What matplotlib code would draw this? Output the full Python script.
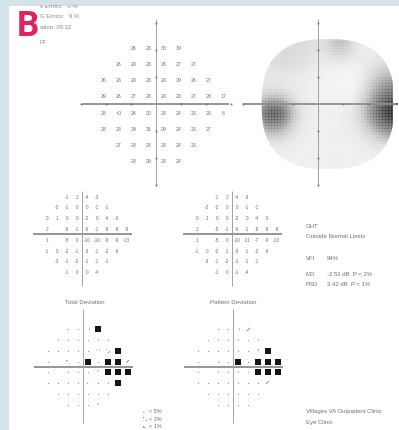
import numpy as np
import matplotlib.pyplot as plt
from matplotlib.patches import Rectangle, PathPatch
from matplotlib.path import Path

plt.rcParams['font.family'] = ['Liberation Sans', 'DejaVu Sans']
plt.rcParams['hatch.linewidth'] = 0.5

W, H = 399, 431
BG = '#d4e2e9'
INK = '#707070'
AXIS = '#8e8e8e'

# 24-2 test locations (degrees)
row_y = [21, 15, 9, 3, -3, -9, -15, -21]
row_x = [
    [-9, -3, 3, 9],
    [-15, -9, -3, 3, 9, 15],
    [-21, -15, -9, -3, 3, 9, 15, 21],
    [-21, -15, -9, -3, 3, 9, 15, 21, 27],
    [-21, -15, -9, -3, 3, 9, 15, 21, 27],
    [-21, -15, -9, -3, 3, 9, 15, 21],
    [-15, -9, -3, 3, 9, 15],
    [-9, -3, 3, 9],
]

threshold = [
    ['26', '28', '30', '19'],
    ['26', '28', '28', '26', '27', '27'],
    ['26', '28', '28', '28', '28', '29', '26', '27'],
    ['29', '26', '27', '28', '28', '28', '27', '29', '17'],
    ['28', '<0', '26', '30', '28', '28', '28', '28', '6'],
    ['28', '28', '29', '31', '29', '28', '28', '27'],
    ['27', '28', '28', '28', '28', '28'],
    ['28', '29', '28', '28'],
]

# grayscale levels (0 white .. 1 black) at the grid columns below, rows = row_y
gray_cols = [-27, -21, -15, -9, -3, 3, 9, 15, 21, 27]
gray_levels = [
    [0.14, 0.18, 0.26, 0.28, 0.26, 0.22, 0.50, 0.18, 0.14, 0.14],
    [0.18, 0.26, 0.30, 0.26, 0.20, 0.14, 0.14, 0.14, 0.18, 0.26],
    [0.16, 0.16, 0.16, 0.16, 0.14, 0.12, 0.08, 0.05, 0.30, 0.50],
    [0.18, 0.30, 0.30, 0.16, 0.14, 0.12, 0.10, 0.12, 0.40, 0.75],
    [0.30, 0.90, 1.00, 0.30, 0.14, 0.14, 0.14, 0.20, 0.60, 1.00],
    [0.22, 0.50, 0.50, 0.20, 0.14, 0.14, 0.14, 0.18, 0.35, 0.70],
    [0.14, 0.16, 0.16, 0.14, 0.14, 0.14, 0.14, 0.14, 0.16, 0.22],
    [0.14, 0.14, 0.14, 0.14, 0.14, 0.14, 0.14, 0.14, 0.14, 0.14],
]

total_dev = [
    [-1, 2, -4, -3],
    [-3, -1, 0, 0, -1, -1],
    [0, 1, 0, 0, -2, 0, -4, -3],
    [2, None, -6, -1, -6, -1, -8, -8, -8],
    [1, None, -5, 0, -10, -10, -8, -9, -13],
    [-1, 0, -2, -1, -3, -1, -2, -6],
    [-3, -1, -2, -1, -1, -1],
    [-1, 0, 0, -4],
]
pattern_dev = [
    [-1, 2, -4, -3],
    [-2, -2, 0, 0, -1, -1],
    [0, 1, 0, 0, -2, 0, -4, -3],
    [2, None, -5, -1, -6, -1, -8, -8, -8],
    [1, None, -5, 0, -10, -11, -7, -9, -13],
    [-1, 0, -2, -1, -3, -1, -2, -6],
    [-3, -1, -2, -1, -1, -1],
    [-1, 0, -1, -4],
]

# probability codes: 0 normal, 1 <5%, 2 <2%, 3 <1%, 4 <0.5%
total_prob = [
    [0, 0, 1, 4],
    [0, 0, 0, 0, 0, 0],
    [0, 0, 0, 0, 0, 1, 2, 4],
    [0, None, 2, 0, 4, 0, 4, 4, 2],
    [0, None, 0, 0, 0, 1, 4, 4, 4],
    [0, 0, 0, 0, 1, 0, 0, 4],
    [0, 0, 0, 0, 0, 0],
    [0, 0, 0, 1],
]
pattern_prob = [
    [0, 0, 1, 2],
    [0, 0, 0, 0, 0, 0],
    [0, 0, 0, 0, 0, 0, 1, 4],
    [0, None, 1, 0, 4, 0, 4, 4, 4],
    [0, None, 0, 0, 0, 0, 4, 4, 4],
    [0, 0, 0, 0, 0, 0, 0, 2],
    [0, 0, 0, 0, 0, 0],
    [0, 0, 0, 0],
]

legend_codes = [1, 2, 3]
legend_labels = ['< 5%', '< 2%', '< 1%']

header_lines = ['s Errors:   0 %', 'G Errors:   9 %', 'ation: 05:32', 'FF']
ght_lines = ['GHT', 'Outside Normal Limits']
summary_labels = ['VFI', 'MD', 'PSD']
summary_values = ['94%', '-2.51 dB  P < 2%', '3.42 dB  P < 1%']
clinic_lines = ['Villages VA Outpatient Clinic', 'Eye Clinic']


def fx(x):
    return x / W


def fy(y):
    return 1 - y / H


fig = plt.figure(figsize=(W / 100, H / 100), dpi=100, facecolor=BG)
fig.add_artist(Rectangle((fx(9), 0), 1, fy(7), transform=fig.transFigure,
                         fc='white', ec='none', zorder=-5))
fig.add_artist(Rectangle((0, fy(6)), 1, 6 / H, transform=fig.transFigure,
                         fc=BG, ec='none', zorder=50))

SPAN = 33


def field_axes(cx, cy, sx, sy):
    ax = fig.add_axes([fx(cx - SPAN * sx), fy(cy + SPAN * sy),
                       2 * SPAN * sx / W, 2 * SPAN * sy / H])
    ax.axis('off')
    ax.patch.set_alpha(0)
    return ax


def cross(ax, xr, yr, ticks=False, hw=1.3, vw=0.7):
    ax.plot(xr, [0, 0], color=AXIS, lw=hw, solid_capstyle='butt', zorder=5)
    ax.plot([0, 0], yr, color='#a2a2a2', lw=vw, solid_capstyle='butt', zorder=5)
    if ticks:
        t = np.array([-30, -20, -10, 10, 20, 30])
        ax.plot(t, np.zeros_like(t), 's', ms=1.3, color='#777777', mew=0, zorder=6)
        ax.plot(np.zeros_like(t), t, 's', ms=1.3, color='#777777', mew=0, zorder=6)


def numbers(ax, values, fs):
    for y, xs, vs in zip(row_y, row_x, values):
        for x, v in zip(xs, vs):
            if v is None:
                continue
            ax.text(x, y, str(v), ha='center', va='center', fontsize=fs,
                    color=INK, zorder=7)


def symbol(ax, x, y, code, sx, sy):
    if code == 0:
        ax.plot(x, y, 's', ms=0.8, color='#9c9c9c', mew=0)
    elif code == 4:
        ax.plot(x, y, 's', ms=3.9, color='#151515', mew=0)
    else:
        hatch = {1: '....', 2: '//////', 3: 'xxxx'}[code]
        col = {1: '#a8a8a8', 2: '#707070', 3: '#404040'}[code]
        w, h = 4.0 / sx, 4.0 / sy
        ax.add_patch(Rectangle((x - w / 2, y - h / 2), w, h, fc='white',
                               ec=col, hatch=hatch, lw=0, zorder=6))


def prob_marks(ax, codes, sx, sy):
    for y, xs, cs in zip(row_y, row_x, codes):
        for x, c in zip(xs, cs):
            if c is not None:
                symbol(ax, x, y, c, sx, sy)


# threshold values
ax1 = field_axes(156, 105, 2.5, 2.7)
cross(ax1, [-29.5, 29], [31.5, -30.5], ticks=True)
numbers(ax1, threshold, 3.8)

# grayscale
ax2 = field_axes(318, 105, 2.5, 2.7)
im = ax2.imshow(np.array(gray_levels), cmap='Greys', vmin=0, vmax=1,
                extent=[-30, 30, -24, 24], interpolation='bicubic', aspect='auto')
t = np.linspace(0, 2 * np.pi, 240)
ex = 4 + 26.5 * np.sign(np.cos(t)) * np.abs(np.cos(t)) ** (2 / 2.6)
ey = 24 * np.sign(np.sin(t)) * np.abs(np.sin(t)) ** (2 / 2.6)
clip = PathPatch(Path(np.column_stack([ex, ey])), transform=ax2.transData,
                 fc='none', ec='none')
ax2.add_patch(clip)
vl = ax2.vlines(np.arange(-30, 31, 1.2), -25, 25, colors='white', lw=0.35, alpha=0.55)
hl = ax2.hlines(np.arange(-25, 26, 1.1), -30, 31, colors='white', lw=0.35, alpha=0.55)
for a in (im, vl, hl):
    a.set_clip_path(clip)
cross(ax2, [-30, 31.5], [31.5, -30.5], ticks=True)
ax2.plot([31.5], [0], 's', ms=1.8, color='#666666', mew=0, zorder=6)

# deviation numbers
ax3 = field_axes(82, 235, 1.65, 1.8)
cross(ax3, [-30, 30], [24, -29])
numbers(ax3, total_dev, 3.4)
ax4 = field_axes(232, 235, 1.65, 1.8)
cross(ax4, [-30, 30], [24, -29])
numbers(ax4, pattern_dev, 3.4)
fig.text(fx(85), fy(303), 'Total Deviation', ha='center', va='center',
         fontsize=4.3, color=INK)
fig.text(fx(233), fy(303), 'Pattern Deviation', ha='center', va='center',
         fontsize=4.3, color=INK)

# probability plots
ax5 = field_axes(83, 368, 1.65, 1.8)
cross(ax5, [-30, 30], [32, -31])
prob_marks(ax5, total_prob, 1.65, 1.8)
ax6 = field_axes(233, 368, 1.65, 1.8)
cross(ax6, [-30, 30], [32, -31])
prob_marks(ax6, pattern_prob, 1.65, 1.8)

for ax in (ax1, ax2, ax3, ax4, ax5, ax6):
    ax.set_xlim(-SPAN, SPAN)
    ax.set_ylim(-SPAN, SPAN)

lg = fig.add_axes([fx(138), fy(431), 40 / W, 26 / H])
lg.set_xlim(138, 178)
lg.set_ylim(431, 405)
lg.axis('off')
for i, (c, lab) in enumerate(zip(legend_codes, legend_labels)):
    yy = 412 + 7.5 * i
    symbol(lg, 145, yy, c, 1, 1)
    lg.text(149, yy, lab, ha='left', va='center', fontsize=4.0, color=INK)

# text blocks
for yy, s in zip([7, 17, 28, 43], header_lines):
    fig.text(fx(40), fy(yy), s, ha='left', va='center', fontsize=4.3, color='#8a8a8a')
fig.text(fx(17), fy(27), 'B', ha='left', va='center', fontsize=25,
         fontweight='bold', family='Roboto', color='#e0235c', zorder=60)

for yy, s in zip([227, 237], ght_lines):
    fig.text(fx(306), fy(yy), s, ha='left', va='center', fontsize=4.3, color=INK)
for yy, lab, val in zip([259, 274, 285], summary_labels, summary_values):
    fig.text(fx(306), fy(yy), lab, ha='left', va='center', fontsize=4.3, color=INK)
    fig.text(fx(327), fy(yy), val, ha='left', va='center', fontsize=4.3, color=INK)
for yy, s in zip([412, 423], clinic_lines):
    fig.text(fx(306), fy(yy), s, ha='left', va='center', fontsize=4.3, color=INK)

fig.savefig('out.png', dpi=100, facecolor=BG)
